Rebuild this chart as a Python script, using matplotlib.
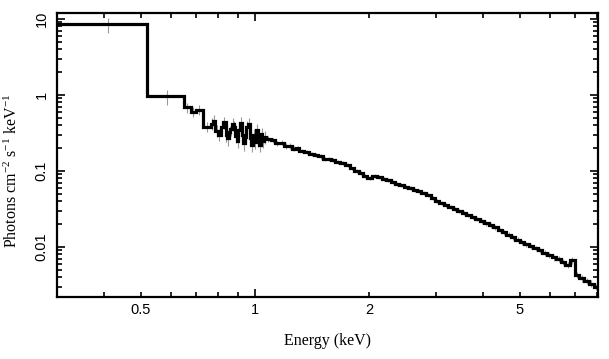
import numpy as np
import matplotlib
matplotlib.use("Agg")
import matplotlib.pyplot as plt
from matplotlib.ticker import FixedLocator, FuncFormatter, NullFormatter

# bin edges in keV (low-energy wide bins, oscillating part, smooth part)
edges = [0.30, 0.52, 0.65, 0.676, 0.697, 0.73, 0.763,
         0.775, 0.786, 0.798, 0.811, 0.823, 0.836,
         0.844, 0.852, 0.861, 0.869, 0.878, 0.886, 0.895, 0.904, 0.913, 0.922,
         0.931, 0.940, 0.949, 0.958, 0.968, 0.977, 0.987, 0.997, 1.006, 1.016,
         1.026, 1.036, 1.046, 1.057, 1.07,
         1.10, 1.13, 1.16, 1.19, 1.22, 1.25, 1.28, 1.31, 1.35, 1.39, 1.43, 1.47,
         1.51, 1.55, 1.59, 1.63, 1.68, 1.73, 1.78, 1.83, 1.88, 1.93, 1.98, 2.04,
         2.10, 2.16, 2.22, 2.28, 2.34, 2.40, 2.47, 2.54, 2.61, 2.68, 2.75, 2.83,
         2.91, 2.99, 3.07, 3.15, 3.24, 3.33, 3.42, 3.51, 3.61, 3.71, 3.81, 3.92,
         4.03, 4.14, 4.25, 4.37, 4.49, 4.61, 4.74, 4.87, 5.00, 5.14, 5.28, 5.43,
         5.58, 5.74, 5.90, 6.07, 6.24, 6.42, 6.60, 6.79, 6.98, 7.18, 7.40, 7.62,
         7.85, 8.05]

# photons cm^-2 s^-1 keV^-1
flux = [8.5, 0.96, 0.69, 0.60, 0.64, 0.38,
        0.42, 0.46, 0.34, 0.30, 0.38, 0.44,
        0.30, 0.27, 0.33, 0.36, 0.42, 0.38, 0.29, 0.25, 0.35, 0.43, 0.30, 0.23,
        0.28, 0.38, 0.42, 0.27, 0.22, 0.30, 0.24, 0.35, 0.26, 0.22, 0.31, 0.25,
        0.28,
        0.264, 0.255, 0.232, 0.236, 0.214, 0.213, 0.197, 0.198, 0.184, 0.179,
        0.167, 0.162, 0.157, 0.146, 0.143, 0.139, 0.133, 0.127, 0.119, 0.108,
        0.101, 0.093, 0.086, 0.080, 0.086, 0.084, 0.078, 0.076, 0.0708, 0.068,
        0.065, 0.062, 0.060, 0.0566, 0.0542, 0.0507, 0.048, 0.044, 0.0405,
        0.0382, 0.036, 0.0339, 0.0318, 0.030, 0.0282, 0.0264, 0.0248, 0.0233,
        0.0217, 0.0204, 0.0194, 0.0181, 0.0168, 0.0156, 0.0146, 0.0135, 0.0125,
        0.0116, 0.0108, 0.0102, 0.0096, 0.0090, 0.0084, 0.0078, 0.0073, 0.0069,
        0.0063, 0.0058, 0.0067, 0.0043, 0.0039, 0.0036, 0.0033, 0.0030]

# fractional 1-sigma errors
rel_err = [0.22, 0.22, 0.15, 0.15, 0.15, 0.15,
           0.18, 0.18, 0.18, 0.18, 0.18, 0.18,
           0.20, 0.20, 0.20, 0.20, 0.20, 0.20, 0.20, 0.20, 0.20, 0.20, 0.20,
           0.20, 0.20, 0.20, 0.20, 0.20, 0.20, 0.20, 0.20, 0.20, 0.20, 0.20,
           0.20, 0.20, 0.20,
           0.08, 0.08, 0.08, 0.08, 0.08, 0.08, 0.07, 0.07, 0.07, 0.07, 0.07,
           0.07, 0.07, 0.06, 0.06, 0.06, 0.06, 0.06, 0.06, 0.06, 0.06, 0.06,
           0.06, 0.06, 0.06, 0.06, 0.06, 0.06, 0.06, 0.06, 0.06, 0.06, 0.06,
           0.06, 0.06, 0.06, 0.06, 0.06, 0.06, 0.06, 0.06, 0.06, 0.06, 0.07,
           0.07, 0.07, 0.07, 0.07, 0.07, 0.07, 0.07, 0.07, 0.07, 0.07, 0.08,
           0.08, 0.08, 0.08, 0.08, 0.08, 0.08, 0.08, 0.09, 0.09, 0.09, 0.09,
           0.09, 0.10, 0.10, 0.10, 0.10, 0.10, 0.10, 0.10]

x_labels = [0.5, 2, 5]
x_minor = [0.3, 0.4, 0.5, 0.6, 0.7, 0.8, 0.9, 2, 3, 4, 5, 6, 7, 8]

plt.rcParams['mathtext.fontset'] = 'custom'
plt.rcParams['mathtext.rm'] = 'Liberation Serif'
plt.rcParams['mathtext.it'] = 'Liberation Serif:italic'

e = np.array(edges)
f = np.array(flux)
err = np.array(rel_err)
centers = 0.5 * (e[:-1] + e[1:])

fig = plt.figure(figsize=(6.09, 3.59), dpi=100)
ax = fig.add_axes([0.0936, 0.1727, 0.8884, 0.7897])

ax.vlines(centers, f * (1 - err), f * (1 + err), color='0.6', lw=0.8, zorder=1)
ax.stairs(f, e, baseline=None, color='black', lw=2.3, zorder=2)

ax.set_xscale('log')
ax.set_yscale('log')
ax.set_xlim(0.3, 8.05)
ax.set_ylim(0.0022, 11.8)

ax.xaxis.set_major_locator(FixedLocator([1]))
ax.xaxis.set_major_formatter(FuncFormatter(lambda v, p: '%g' % v))
ax.xaxis.set_minor_locator(FixedLocator(x_minor))
ax.xaxis.set_minor_formatter(FuncFormatter(
    lambda v, p: ('%g' % v) if any(abs(v - t) < 1e-6 for t in x_labels) else ''))

ax.yaxis.set_major_locator(FixedLocator([0.01, 0.1, 1, 10]))
ax.yaxis.set_major_formatter(FuncFormatter(lambda v, p: '%g' % v))
ax.yaxis.set_minor_locator(FixedLocator(
    [m * d for d in [0.001, 0.01, 0.1, 1] for m in range(2, 10)]))
ax.yaxis.set_minor_formatter(NullFormatter())

for s in ax.spines.values():
    s.set_linewidth(1.6)

ax.tick_params(which='both', direction='in', top=True, right=True, width=1.2,
               labelsize=10.5, pad=4, labelfontfamily='Liberation Sans')
ax.tick_params(which='major', length=6)
ax.tick_params(which='minor', length=3.5)
ax.tick_params(axis='y', which='major', pad=6)
for lab in ax.get_yticklabels():
    lab.set_rotation(90)
    lab.set_va('center')

ax.set_xlabel('Energy (keV)', family='Liberation Serif', fontsize=11.5, labelpad=12)
ax.set_ylabel(r'Photons cm$^{-2}$ s$^{-1}$ keV$^{-1}$', family='Liberation Serif',
              fontsize=11.5)
ax.yaxis.set_label_coords(-0.066, 0.445)

fig.savefig('out.png', dpi=100)
